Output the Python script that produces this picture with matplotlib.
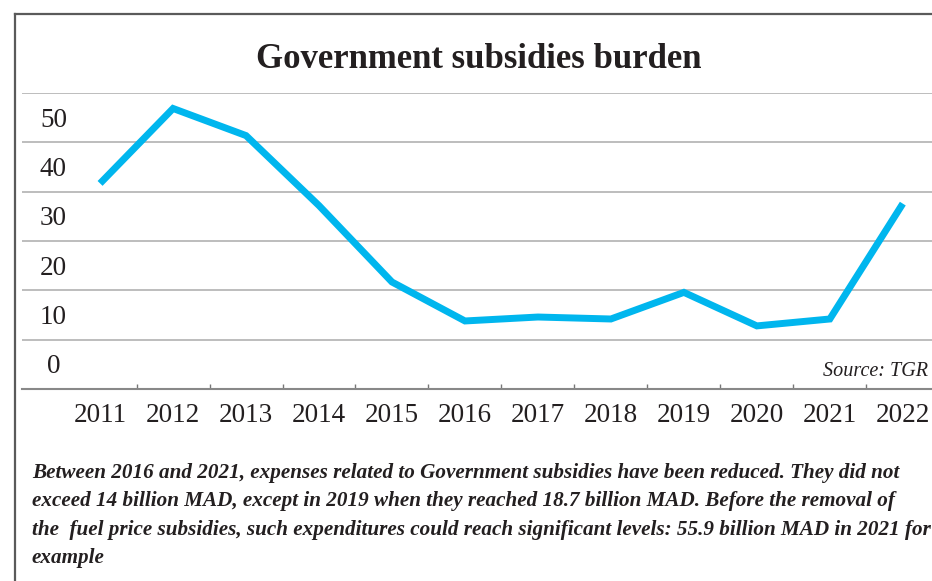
import matplotlib.pyplot as plt
from matplotlib.lines import Line2D

years = ["2011", "2012", "2013", "2014", "2015", "2016",
         "2017", "2018", "2019", "2020", "2021", "2022"]
subsidies = [41.7, 56.9, 51.4, 37.2, 21.7, 13.8,
             14.6, 14.2, 19.6, 12.8, 14.2, 37.6]
y_labels = [0, 10, 20, 30, 40, 50]
grid_levels = [0, 10, 20, 30, 40, 50, 60]

title = "Government subsidies burden"
source = "Source: TGR"
caption_lines = [
    "Between 2016 and 2021, expenses related to Government subsidies have been reduced. They did not",
    "exceed 14 billion MAD, except in 2019 when they reached 18.7 billion MAD. Before the removal of",
    "the  fuel price subsidies, such expenditures could reach significant levels: 55.9 billion MAD in 2021 for",
    "example",
]

plt.rcParams["font.family"] = ["Liberation Serif", "DejaVu Serif"]

W, H = 932, 581
fig = plt.figure(figsize=(W / 100, H / 100), dpi=100)

# plot area in pixel terms
left, right, bottom, top = 22, 932, 389, 92.7
ax = fig.add_axes([left / W, 1 - bottom / H, (right - left) / W, (bottom - top) / H])

xs = list(range(len(years)))
ax.plot(xs, subsidies, color="#00B6EE", lw=5,
        solid_joinstyle="miter", solid_capstyle="butt", zorder=3)

ax.set_xlim(-1.07, 11.4)
ax.set_ylim(0, 60.1)

# horizontal grid
ax.set_yticks(grid_levels)
ax.yaxis.grid(True, color="#b8b8b8", lw=1.3)
ax.tick_params(axis="y", left=False, labelleft=False)
for v in y_labels:
    ax.text(-0.64, v + 4.5, str(v), ha="center", va="center",
            fontsize=19.5, color="#231f20")

# x axis: labels at categories, small ticks between them
ax.set_xticks(xs)
ax.set_xticklabels(years, fontsize=19.5, color="#231f20")
ax.tick_params(axis="x", which="major", length=0, pad=10)
ax.set_xticks([x + 0.5 for x in xs[:-1]], minor=True)
ax.tick_params(axis="x", which="minor", direction="in", length=3.5,
               width=1, color="#777777")

for s in ["top", "right", "left"]:
    ax.spines[s].set_visible(False)
ax.spines["bottom"].set_color("#888888")
ax.spines["bottom"].set_linewidth(1.5)

ax.text(0.996, 0.06, source, transform=ax.transAxes, ha="right", va="center",
        fontsize=14.5, style="italic", color="#231f20")

fig.text(479 / W, 1 - 59 / H, title, ha="center", va="center",
         fontsize=25, fontweight="bold", color="#231f20")

# frame lines on left and top
fig.add_artist(Line2D([15 / W, 15 / W], [0, 1 - 14 / H], transform=fig.transFigure,
                      color="#5a5a5a", lw=1.6))
fig.add_artist(Line2D([15 / W, 1], [1 - 14 / H, 1 - 14 / H], transform=fig.transFigure,
                      color="#5a5a5a", lw=1.6))

for i, line in enumerate(caption_lines):
    fig.text(32 / W, 1 - (473 + 28.3 * i) / H, line, ha="left", va="center",
             fontsize=15.2, fontweight="bold", style="italic", color="#231f20")

fig.savefig("out.png", dpi=100)
